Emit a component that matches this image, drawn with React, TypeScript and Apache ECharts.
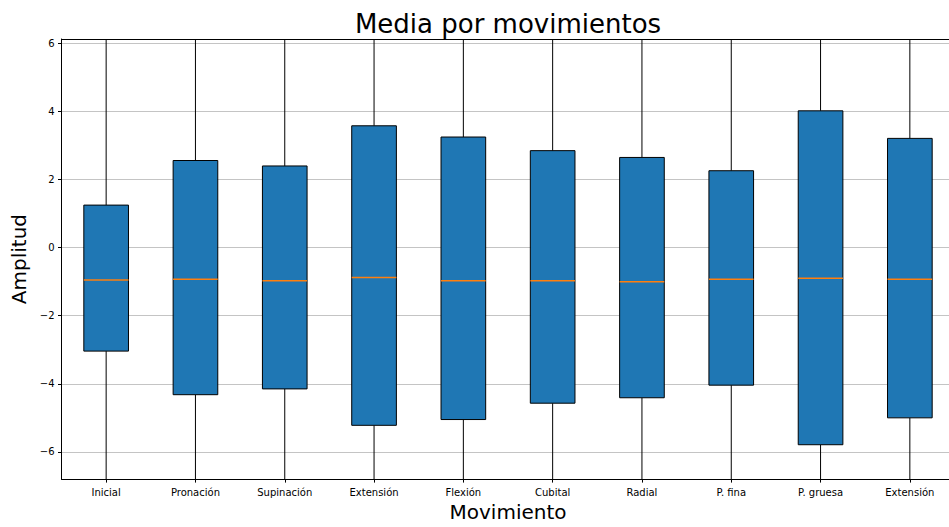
import React, { useEffect, useRef } from "react";
import * as echarts from "echarts";

// Movement categories along the x axis
const categories = [
  "Inicial",
  "Pronación",
  "Supinación",
  "Extensión",
  "Flexión",
  "Cubital",
  "Radial",
  "P. fina",
  "P. gruesa",
  "Extensión",
];

// Box statistics per movement (amplitude)
const q1Values = [-3.04, -4.32, -4.15, -5.22, -5.05, -4.57, -4.41, -4.04, -5.79, -5.0];
const medianValues = [-0.95, -0.93, -0.97, -0.88, -0.97, -0.97, -1.0, -0.93, -0.9, -0.93];
const q3Values = [1.25, 2.56, 2.4, 3.58, 3.25, 2.85, 2.65, 2.26, 4.02, 3.21];
// Whisker ends run past the visible amplitude window on both sides
const whiskerLow = [-8, -8, -8, -8, -8, -8, -8, -8, -8, -8];
const whiskerHigh = [8, 8, 8, 8, 8, 8, 8, 8, 8, 8];

// Visible amplitude window and tick step
const yMin = -6.8;
const yMax = 6.13;
const yStep = 2;

const FONT = "DejaVu Sans";

export default function App() {
  const ref = useRef<HTMLDivElement>(null);

  useEffect(() => {
    if (!ref.current) return;
    const chart = echarts.init(ref.current, null, { renderer: "svg" });

    const rows = categories.map((_, i) => [
      i,
      whiskerLow[i],
      q1Values[i],
      medianValues[i],
      q3Values[i],
      whiskerHigh[i],
    ]);

    const minus = (v: number) => String(v).replace("-", "\u2212");

    chart.setOption({
      animation: false,
      backgroundColor: "#ffffff",
      title: {
        text: "Media por movimientos",
        left: "center",
        top: 11,
        padding: 0,
        textStyle: {
          fontFamily: FONT,
          fontSize: 26,
          fontWeight: "normal",
          color: "#000",
          lineHeight: 26,
        },
      },
      grid: {
        left: 61.5,
        top: 39,
        width: 893,
        height: 442,
        containLabel: false,
      },
      xAxis: [
        {
          type: "category",
          data: categories,
          boundaryGap: true,
          position: "bottom",
          z: 1,
          name: "Movimiento",
          nameLocation: "middle",
          nameGap: 21,
          nameTextStyle: { fontFamily: FONT, fontSize: 20, color: "#000" },
          axisLine: { show: true, onZero: false, lineStyle: { color: "#000", width: 1 } },
          axisTick: {
            show: true,
            alignWithLabel: true,
            length: 3.5,
            lineStyle: { color: "#000", width: 1 },
          },
          axisLabel: {
            fontFamily: FONT,
            fontSize: 10,
            color: "#000",
            margin: 8,
            interval: 0,
          },
          splitLine: { show: false },
        },
        {
          type: "category",
          data: categories,
          position: "top",
          z: 1,
          axisLine: { show: true, onZero: false, lineStyle: { color: "#000", width: 1 } },
          axisTick: { show: false },
          axisLabel: { show: false },
          splitLine: { show: false },
        },
      ],
      yAxis: {
        type: "value",
        min: yMin,
        max: yMax,
        splitNumber: 6,
        minInterval: yStep,
        maxInterval: yStep,
        name: "Amplitud",
        nameLocation: "middle",
        nameGap: 24,
        nameTextStyle: { fontFamily: FONT, fontSize: 20, color: "#000" },
        axisLine: { show: true, onZero: false, lineStyle: { color: "#000", width: 1 } },
        axisTick: { show: true, length: 3.5, lineStyle: { color: "#000", width: 1 } },
        axisLabel: {
          fontFamily: FONT,
          fontSize: 10,
          color: "#000",
          margin: 7,
          showMinLabel: false,
          showMaxLabel: false,
          formatter: (v: number) => minus(v),
        },
        splitLine: { show: true, lineStyle: { color: "#c4c4c4", width: 1 } },
      },
      series: [
        {
          type: "custom",
          clip: true,
          encode: { x: 0, y: [1, 2, 3, 4, 5] },
          data: rows,
          renderItem: (_params: any, api: any) => {
            const i = api.value(0);
            const lo = api.coord([i, api.value(1)]);
            const q1 = api.coord([i, api.value(2)]);
            const md = api.coord([i, api.value(3)]);
            const q3 = api.coord([i, api.value(4)]);
            const hi = api.coord([i, api.value(5)]);
            const band = api.size([1, 0])[0];
            const w = band * 0.5;
            const cx = q1[0];
            const lineStyle = { stroke: "#000", lineWidth: 1 };
            return {
              type: "group",
              children: [
                {
                  type: "line",
                  shape: { x1: cx, y1: lo[1], x2: cx, y2: q1[1] },
                  style: lineStyle,
                },
                {
                  type: "line",
                  shape: { x1: cx, y1: q3[1], x2: cx, y2: hi[1] },
                  style: lineStyle,
                },
                {
                  type: "line",
                  shape: { x1: cx - w / 4, y1: lo[1], x2: cx + w / 4, y2: lo[1] },
                  style: lineStyle,
                },
                {
                  type: "line",
                  shape: { x1: cx - w / 4, y1: hi[1], x2: cx + w / 4, y2: hi[1] },
                  style: lineStyle,
                },
                {
                  type: "rect",
                  shape: { x: cx - w / 2, y: q3[1], width: w, height: q1[1] - q3[1] },
                  style: { fill: "#1f77b4", stroke: "#000", lineWidth: 1 },
                },
                {
                  type: "line",
                  shape: { x1: cx - w / 2, y1: md[1], x2: cx + w / 2, y2: md[1] },
                  style: { stroke: "#ff7f0e", lineWidth: 1.5 },
                },
              ],
            };
          },
        },
      ],
    });

    return () => chart.dispose();
  }, []);

  return (
    <div
      ref={ref}
      style={{ position: "fixed", left: 0, top: 0, width: 1016, height: 527 }}
    />
  );
}
